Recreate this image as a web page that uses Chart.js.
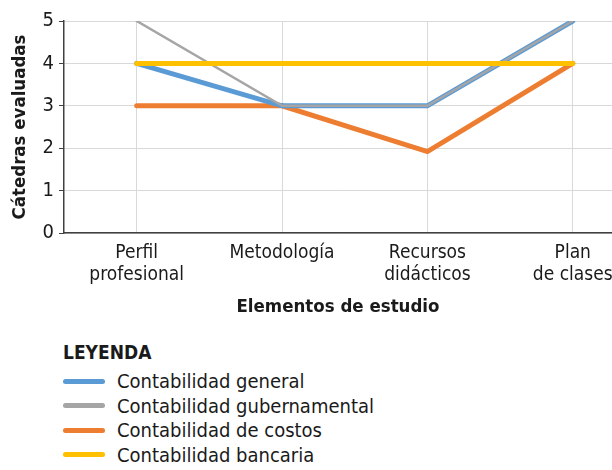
<!DOCTYPE html>
<html>
<head>
<meta charset="utf-8">
<script src="https://cdn.jsdelivr.net/npm/chart.js@4/dist/chart.umd.min.js"></script>
<style>
  body { margin: 0; background: #fff; width: 612px; height: 470px; overflow: hidden; }
  #wrap { position: relative; width: 612px; height: 322px; }
  #legend { font-family: 'Liberation Sans Narrow', 'DejaVu Sans Condensed', sans-serif; color: #1a1a1a; margin-left: 63px; margin-top: 18px; }
  #legend .title { font-weight: bold; font-size: 19px; line-height: 24px; margin-bottom: 5px; }
  #legend .item { display: flex; align-items: center; font-size: 20px; line-height: 24.5px; }
  #legend .sw { width: 42px; height: 5px; border-radius: 3px; margin-right: 12px; }
</style>
</head>
<body>
<div id="wrap"><canvas id="chart"></canvas></div>
<div id="legend"><div class="title">LEYENDA</div></div>
<script>
const categories = [['Perfil', 'profesional'], ['Metodología'], ['Recursos', 'didácticos'], ['Plan', 'de clases']];
const seriesNames = ['Contabilidad general', 'Contabilidad gubernamental', 'Contabilidad de costos', 'Contabilidad bancaria'];
const general = [4, 3, 3, 5];
const gubernamental = [5, 3, 3, 5];
const costos = [3, 3, 1.92, 4];
const bancaria = [4, 4, 4, 4];
const yTicks = [0, 1, 2, 3, 4, 5];

const colors = ['#5b9bd5', '#a5a5a5', '#ed7d31', '#ffc000'];
const widths = [5, 2.5, 5, 5];
const drawOrder = [2, 1, 3, 0]; // yellow on top, orange at the bottom
const allValues = [general, gubernamental, costos, bancaria];

const font = "'Liberation Sans Narrow', 'DejaVu Sans Condensed', sans-serif";

const datasets = allValues.map((vals, i) => ({
    label: seriesNames[i],
    data: vals.map((v, j) => ({ x: j, y: v })),
    borderColor: colors[i],
    borderWidth: widths[i],
    pointRadius: 0,
    order: drawOrder[i],
    borderCapStyle: 'round'
}));

new Chart(document.getElementById('chart'), {
    type: 'line',
    data: { datasets: datasets },
    options: {
        responsive: true,
        maintainAspectRatio: false,
        animation: false,
        layout: { padding: { top: 21, right: 0, left: 0, bottom: 0 } },
        plugins: { legend: { display: false }, tooltip: { enabled: false } },
        scales: {
            x: {
                type: 'linear',
                min: -0.5,
                max: 3.27,
                afterFit: s => { s.height = 89; s.paddingLeft = 0; s.paddingRight = 0; },
                ticks: {
                    stepSize: 1,
                    includeBounds: false,
                    autoSkip: false,
                    maxRotation: 0,
                    padding: 9,
                    color: '#1a1a1a',
                    font: { family: font, size: 19, lineHeight: 1.16 },
                    callback: v => categories[v] || ''
                },
                grid: { color: '#d9d9d9', drawTicks: false },
                border: { color: '#404040', width: 1.5 },
                title: {
                    display: true,
                    text: 'Elementos de estudio',
                    color: '#1a1a1a',
                    font: { family: font, size: 18.5, weight: 'bold' },
                    padding: { top: 5 }
                }
            },
            y: {
                min: 0,
                max: 5,
                afterFit: s => { s.width = 64; s.paddingTop = 0; s.paddingBottom = 0; },
                afterBuildTicks: s => { s.ticks = yTicks.map(v => ({ value: v })); },
                ticks: {
                    padding: 5,
                    color: '#1a1a1a',
                    font: { family: font, size: 20 }
                },
                grid: { color: '#d9d9d9', tickColor: '#404040', tickLength: 5 },
                border: { color: '#404040', width: 1.5 },
                title: {
                    display: true,
                    text: 'Cátedras evaluadas',
                    color: '#1a1a1a',
                    font: { family: font, size: 18.5, weight: 'bold' },
                    padding: { top: 9, bottom: 0 }
                }
            }
        }
    }
});

const legend = document.getElementById('legend');
seriesNames.forEach((name, i) => {
    const row = document.createElement('div');
    row.className = 'item';
    row.innerHTML = '<span class="sw" style="background:' + colors[i] + '"></span><span>' + name + '</span>';
    legend.appendChild(row);
});
</script>
</body>
</html>
